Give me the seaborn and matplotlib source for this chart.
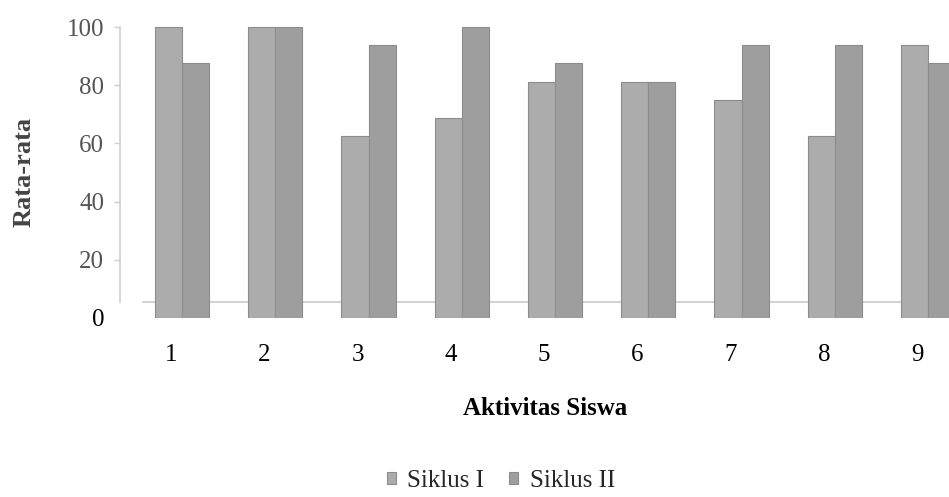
import matplotlib
matplotlib.use("Agg")
import matplotlib.pyplot as plt
import matplotlib.transforms as mtransforms
import seaborn as sns
import pandas as pd

# values
aktivitas = ["1", "2", "3", "4", "5", "6", "7", "8", "9"]
siklus_1 = [100, 100, 62.5, 68.75, 81.25, 81.25, 75, 62.5, 93.75]
siklus_2 = [87.5, 100, 93.75, 100, 87.5, 81.25, 93.75, 93.75, 87.5]
y_ticks = [0, 20, 40, 60, 80, 100]

df = pd.DataFrame({
    "Aktivitas Siswa": aktivitas * 2,
    "Rata-rata": siklus_1 + siklus_2,
    "Siklus": ["Siklus I"] * len(aktivitas) + ["Siklus II"] * len(aktivitas),
})

sns.set_style("white")
plt.rcParams["font.family"] = ["Liberation Serif", "DejaVu Serif"]

fig = plt.figure(figsize=(9.49, 4.97), dpi=100)
# axes box in pixels: x 120..949, y (0) at 318 px from top, 2.91 px per unit
ax = fig.add_axes([120 / 949, 179 / 497, 829 / 949, 302.6 / 497])

sns.barplot(data=df, x="Aktivitas Siswa", y="Rata-rata", hue="Siklus",
            palette=["#acacac", "#9e9e9e"], width=0.58, saturation=1,
            edgecolor="#8c8c8c", linewidth=0.8, ax=ax, zorder=3)

ax.set_xlim(-0.665, 8.225)
ax.set_ylim(0, 104)

# 3d-ish floor line and light y axis
ax.axhline(5.5, xmin=23 / 829, color="#c9c9c9", lw=1.2, zorder=1)
for side in ["top", "right", "bottom"]:
    ax.spines[side].set_visible(False)
ax.spines["left"].set_color("#cfcfcf")
ax.spines["left"].set_linewidth(1.2)
ax.spines["left"].set_bounds(5.5, 100)

ax.set_yticks(y_ticks)
ax.set_yticklabels([str(t) for t in y_ticks])
ax.tick_params(axis="y", length=4.5, width=1, color="#cfcfcf", pad=7,
               labelsize=18, labelcolor="#555555", left=True)
ax.get_yticklabels()[0].set_color("black")
ax.yaxis.get_major_ticks()[0].tick1line.set_visible(False)

ax.tick_params(axis="x", length=0, pad=19, labelsize=18, labelcolor="black")
shift = mtransforms.ScaledTranslation(-11 / 100, 0, fig.dpi_scale_trans)
for lab in ax.get_xticklabels():
    lab.set_transform(lab.get_transform() + shift)

ax.set_xlabel("Aktivitas Siswa", fontsize=18, fontweight="bold", color="black")
ax.xaxis.set_label_coords(425 / 829, -0.26)
ax.set_ylabel("Rata-rata", fontsize=19, fontweight="bold", color="#444444", va="center")
ax.yaxis.set_label_coords(-96 / 829, 0.482)

sns.move_legend(ax, "center", bbox_to_anchor=(381 / 829, -0.54), ncol=2,
                frameon=False, title=None, fontsize=18,
                handlelength=0.36, handleheight=0.36, handletextpad=0.45,
                columnspacing=1.0)

fig.savefig("out.png", dpi=100)
